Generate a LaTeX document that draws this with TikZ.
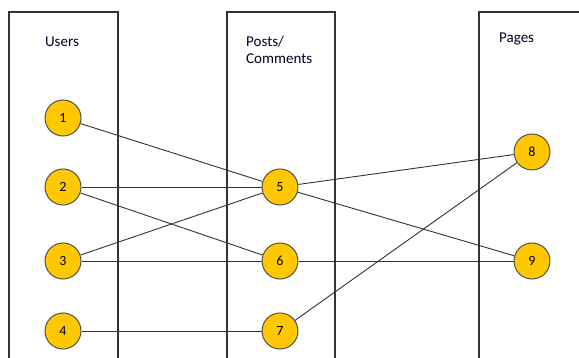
\documentclass[tikz,border=0pt]{standalone}
\usepackage{fontspec}
\setmainfont{Carlito}
\definecolor{gold}{HTML}{FFC800}
\definecolor{rim}{HTML}{505050}
\definecolor{wire}{HTML}{333333}
\begin{document}
\begin{tikzpicture}[x=1pt,y=-1pt,
  vert/.style={circle,draw=rim,line width=1pt,fill=gold,minimum size=36pt,inner sep=0pt,font=\fontsize{14}{16}\selectfont},
  lane/.style={draw=wire,line width=1.1pt},
  link/.style={draw=wire,line width=0.9pt},
  title/.style={inner sep=0pt,font=\fontsize{15}{17}\selectfont,text=black!85!blue}]
\useasboundingbox (0,0) rectangle (579,358);
\fill[white] (0,0) rectangle (579,358);
\draw[lane] (9,370) -- (9,12) -- (118,12) -- (118,370);
\draw[lane] (227,370) -- (227,12) -- (335,12) -- (335,370);
\draw[lane] (479,370) -- (479,12) -- (590,12);
\node[title,anchor=base] (tu) at (62,47) {Users};
\node[title,anchor=base west] (tp) at (246,47) {Posts/};
\node[title,anchor=base west] (tc) at (246,64) {Comments};
\node[title,anchor=base west] (tg) at (499,43) {Pages};
\node[vert] (n1) at (63,118) {1};
\node[vert] (n2) at (63,187) {2};
\node[vert] (n3) at (63,261) {3};
\node[vert] (n4) at (63,331) {4};
\node[vert] (n5) at (280,187) {5};
\node[vert] (n6) at (280,261) {6};
\node[vert] (n7) at (280,331) {7};
\node[vert] (n8) at (532,152) {8};
\node[vert] (n9) at (532,261) {9};
\draw[link] (n1) -- (n5);
\draw[link] (n2) -- (n5);
\draw[link] (n2) -- (n6);
\draw[link] (n3) -- (n5);
\draw[link] (n3) -- (n6);
\draw[link] (n4) -- (n7);
\draw[link] (n5) -- (n8);
\draw[link] (n5) -- (n9);
\draw[link] (n6) -- (n9);
\draw[link] (n7) -- (n8);
\end{tikzpicture}
\end{document}
